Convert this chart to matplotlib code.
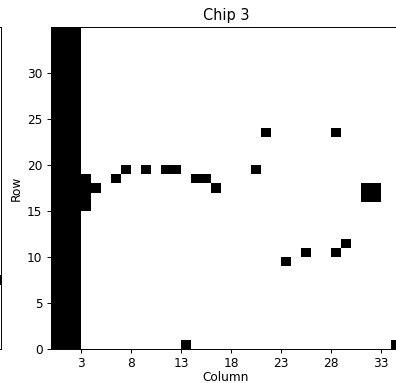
import numpy as np
import matplotlib
matplotlib.use("Agg")
import matplotlib.pyplot as plt
from matplotlib.colors import ListedColormap

# Chip geometry
n_cols = 35
n_rows = 35

# Fully defective columns
dead_columns = [0, 1, 2]

# Individual defective pixels (column, row)
dead_cols = [3, 3, 3, 3, 4, 6, 7, 9, 11, 12, 14, 15, 16, 20, 21, 28,
             31, 32, 31, 32, 23, 25, 28, 29, 13, 34]
dead_rows = [15, 16, 17, 18, 17, 18, 19, 19, 19, 19, 18, 18, 17, 19, 23, 23,
             16, 16, 17, 17, 9, 10, 10, 11, 0, 0]

# Tick positions
x_ticks = [3, 8, 13, 18, 23, 28, 33]
y_ticks = [0, 5, 10, 15, 20, 25, 30]

# Last column of the neighbouring chip panel
prev_dead_rows = [7]

mask = np.zeros((n_rows, n_cols))
for c in dead_columns:
    mask[:, c] = 1
for c, r in zip(dead_cols, dead_rows):
    mask[r, c] = 1

dpi = 87
fig = plt.figure(figsize=(396 / dpi, 383 / dpi), dpi=dpi)
W, H = 396, 383

cmap = ListedColormap(["white", "black"])

# Neighbouring panel (only its right edge is within the frame)
ax0 = fig.add_axes([(1 - 350) / W, (H - 349) / H, 350 / W, 322 / H])
prev_mask = np.zeros((n_rows, n_cols))
for r in prev_dead_rows:
    prev_mask[r, n_cols - 1] = 1
ax0.pcolormesh(np.arange(n_cols + 1), np.arange(n_rows + 1), prev_mask,
               cmap=cmap, vmin=0, vmax=1)
ax0.set_xlim(0, n_cols)
ax0.set_ylim(0, n_rows)
ax0.set_xticks([])
ax0.set_yticks([])

# Chip 3 panel
ax = fig.add_axes([51 / W, (H - 349) / H, 350 / W, 322 / H])
ax.pcolormesh(np.arange(n_cols + 1), np.arange(n_rows + 1), mask,
              cmap=cmap, vmin=0, vmax=1)
ax.set_xlim(0, n_cols)
ax.set_ylim(0, n_rows)
ax.set_xticks(x_ticks)
ax.set_xticklabels([str(t) for t in x_ticks])
ax.set_yticks(y_ticks)
ax.set_axisbelow(True)
ax.grid(True, linestyle="--", linewidth=0.5, color="#b0b0b0")
ax.set_title("Chip 3")
ax.set_xlabel("Column", labelpad=0.5)
ax.set_ylabel("Row", labelpad=3.5)

fig.savefig("out.png", dpi=dpi)
